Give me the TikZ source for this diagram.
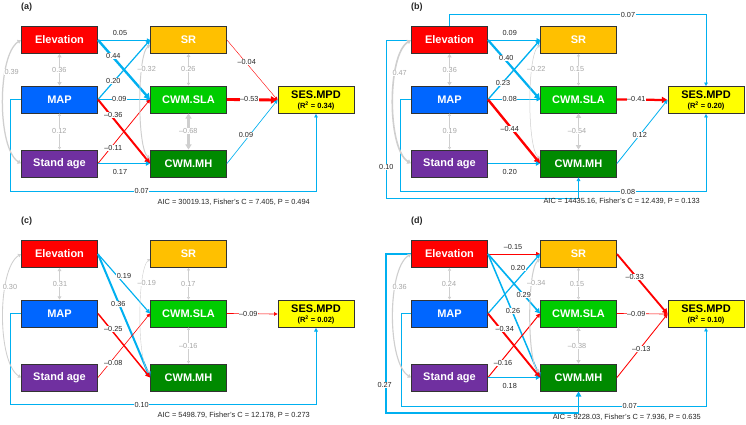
\documentclass[tikz,border=0pt]{standalone}
\usepackage{fontspec}
\setmainfont{Liberation Sans}
\usetikzlibrary{arrows.meta}
\definecolor{cEl}{HTML}{FF0000}
\definecolor{cMAP}{HTML}{0066FF}
\definecolor{cSA}{HTML}{7030A0}
\definecolor{cSR}{HTML}{FFC000}
\definecolor{cSLA}{HTML}{00CC00}
\definecolor{cMH}{HTML}{008A00}
\definecolor{cSES}{HTML}{FFFF00}
\definecolor{lnbl}{HTML}{00B0F0}
\definecolor{lnrd}{HTML}{FF0000}
\definecolor{lngr}{HTML}{CFCFCF}
\definecolor{txgr}{HTML}{A6A6A6}
\definecolor{txdk}{HTML}{262626}
\tikzset{
  bx/.style={draw=black!80, line width=0.9pt, minimum width=76pt, minimum height=27pt, inner sep=0pt, text=white, font=\fontsize{11}{12}\selectfont\bfseries},
  pb/.style={draw=lnbl, line width=#1, -{Triangle[length=2.6pt 1.4, width=2.6pt 1.6]}},
  pr/.style={draw=lnrd, line width=#1, -{Triangle[length=2.6pt 1.4, width=2.6pt 1.6]}},
  cg/.style={draw=lngr, line width=#1, {Triangle[length=2pt 1.2, width=2.4pt 1.4]}-{Triangle[length=2pt 1.2, width=2.4pt 1.4]}},
  lab/.style={fill=white, inner sep=0.6pt, text=txdk, font=\fontsize{7.3}{8}\selectfont},
  glab/.style={lab, text=txgr},
  ptag/.style={inner sep=0pt, text=txdk, font=\fontsize{9}{10}\selectfont\bfseries},
  aic/.style={inner sep=0pt, text=txdk, font=\fontsize{7.4}{8}\selectfont}
}
\newcommand{\mkboxes}[2]{%
  \node[bx, fill=cEl] (#1E) at (59.5,40) {Elevation};
  \node[bx, fill=cMAP] (#1M) at (59.5,99.5) {MAP};
  \node[bx, fill=cSA] (#1A) at (59.5,163.5) {Stand age};
  \node[bx, fill=cSR] (#1R) at (188.5,40) {SR};
  \node[bx, fill=cSLA] (#1L) at (188.5,99.5) {CWM.SLA};
  \node[bx, fill=cMH] (#1H) at (188.5,163.5) {CWM.MH};
  \node[bx, fill=cSES, text=black, align=center] (#1P) at (316,100) {SES.MPD\\[-2pt]{\fontsize{7.5}{8}\selectfont (R\textsuperscript{2} = #2)}};
}
\newcommand{\mylab}[4]{\node[lab] (#1) at (#2,#3) {#4};}
\newcommand{\mygl}[4]{\node[glab] (#1) at (#2,#3) {#4};}
\begin{document}
\begin{tikzpicture}[x=1pt,y=-1pt]
\fill[white] (0,0) rectangle (746,424);
\useasboundingbox (0,0) rectangle (746,424);

% ---------------- panel (a)
\begin{scope}
\node[ptag, anchor=west] (aTag) at (21,7) {(a)};
\mkboxes{a}{0.34}
\draw[pb=0.45pt] (aE.east) -- (aR.west);
\draw[pb=2.4pt] (aE.east) -- (aL.west);
\draw[pb=1.2pt] (aM.east) -- (aR.west);
\draw[pb=0.65pt] (aM.east) -- (aL.west);
\draw[pr=2pt] (aM.east) -- (aH.west);
\draw[pr=0.75pt] (aA.east) -- (aL.west);
\draw[pb=1.05pt] (aA.east) -- (aH.west);
\draw[pr=0.4pt] (aR.east) -- (aP.west);
\draw[pr=2.85pt] (aL.east) -- (aP.west);
\draw[pb=0.65pt] (aH.east) -- (aP.west);
\draw[pb=0.55pt] (aM.west) -| (10.5,191.5) -| (aP.south);
\draw[cg=1.1pt] (aE.south) -- (aM.north);
\draw[cg=0.4pt] (aM.south) -- (aA.north);
\draw[cg=1.25pt] (aE.west) .. controls +(-24,15) and +(-24,-15) .. (aA.west);
\draw[cg=0.67pt] (aR.south) -- (aL.north);
\draw[cg=2.56pt] (aL.south) -- (aH.north);
\draw[cg=0.94pt] ([yshift=-5pt]aR.west) .. controls +(-13,10) and +(-13,-10) .. ([yshift=5pt]aH.west);
\mylab{a1}{120}{33.3}{0.05}
\mylab{a2}{113.3}{56}{0.44}
\mylab{a3}{113.3}{81}{0.20}
\mylab{a4}{119.3}{99.3}{0.09}
\mylab{a5}{113.3}{115}{–0.36}
\mylab{a6}{113.3}{147.7}{–0.11}
\mylab{a7}{120}{171.7}{0.17}
\mylab{a8}{246.7}{61.7}{–0.04}
\mylab{a9}{249.3}{99.3}{–0.53}
\mylab{a10}{246}{135}{0.09}
\mylab{a11}{141.7}{191}{0.07}
\mygl{a12}{59.3}{70}{0.36}
\mygl{a13}{59.3}{131}{0.12}
\mygl{a14}{11.7}{71.7}{0.39}
\mygl{a15}{188.3}{69}{0.26}
\mygl{a16}{188.3}{131}{–0.68}
\mygl{a17}{146.7}{69}{–0.32}
\node[aic, anchor=east] (aAIC) at (310,202.7) {AIC = 30019.13, Fisher's C = 7.405, P = 0.494};
\end{scope}

% ---------------- panel (b)
\begin{scope}[shift={(390,0)}]
\node[ptag, anchor=west] (bTag) at (21,7) {(b)};
\mkboxes{b}{0.20}
\draw[pb=0.65pt] (bE.east) -- (bR.west);
\draw[pb=2.2pt] (bE.east) -- (bL.west);
\draw[pb=1.35pt] (bM.east) -- (bR.west);
\draw[pb=0.6pt] (bM.east) -- (bL.west);
\draw[pr=2.4pt] (bM.east) -- (bH.west);
\draw[pb=1.2pt] (bA.east) -- (bH.west);
\draw[pr=2.25pt] (bL.east) -- (bP.west);
\draw[pb=0.8pt] (bH.east) -- (bP.west);
\draw[pb=0.55pt] (bE.north) -- ++(0,-11.5) -| (bP.north);
\draw[pb=0.6pt] (bM.west) -| (10.7,191.7) -| (bP.south);
\draw[pb=0.7pt] (bE.west) -| (-4,198) -| (bH.south);
\draw[cg=1.1pt] (bE.south) -- (bM.north);
\draw[cg=0.4pt] (bM.south) -- (bA.north);
\draw[cg=1.6pt] (bE.west) .. controls +(-24,15) and +(-24,-15) .. (bA.west);
\draw[cg=0.4pt] (bR.south) -- (bL.north);
\draw[cg=1.93pt] (bL.south) -- (bH.north);
\draw[cg=0.5pt] ([yshift=-5pt]bR.west) .. controls +(-13,10) and +(-13,-10) .. ([yshift=5pt]bH.west);
\mylab{b1}{119.7}{33.3}{0.09}
\mylab{b2}{116.3}{58.3}{0.40}
\mylab{b3}{113}{83.3}{0.23}
\mylab{b4}{119.7}{99.3}{0.08}
\mylab{b5}{119.7}{129.3}{–0.44}
\mylab{b6}{119.7}{171.7}{0.20}
\mylab{b7}{246.3}{99.3}{–0.41}
\mylab{b8}{249.7}{135}{0.12}
\mylab{b9}{238}{15}{0.07}
\mylab{b10}{238}{191.7}{0.08}
\mylab{b11}{-3.7}{166.7}{0.10}
\mygl{b12}{59.7}{70}{0.36}
\mygl{b13}{59.7}{131}{0.19}
\mygl{b14}{9.7}{73.3}{0.47}
\mygl{b15}{187}{69}{0.15}
\mygl{b16}{187}{131}{–0.54}
\mygl{b17}{146.3}{69}{–0.22}
\node[aic, anchor=east] (bAIC) at (310,201.7) {AIC = 14435.16, Fisher's C = 12.439, P = 0.133};
\end{scope}

% ---------------- panel (c)
\begin{scope}[shift={(0,214)}]
\node[ptag, anchor=west] (cTag) at (21,7) {(c)};
\mkboxes{c}{0.02}
\draw[pb=1.15pt] (cE.east) -- (cL.west);
\draw[pb=2pt] (cE.east) -- (cH.west);
\draw[pr=1.45pt] (cM.east) -- (cH.west);
\draw[pr=0.6pt] (cA.east) -- (cL.west);
\draw[pr=0.65pt] (cL.east) -- (cP.west);
\draw[pb=0.7pt] (cM.west) -| (10.7,190.7) -| (cP.south);
\draw[cg=0.9pt] (cE.south) -- (cM.north);
\draw[cg=0.85pt] (cE.west) .. controls +(-24,15) and +(-24,-15) .. (cA.west);
\draw[cg=0.4pt] (cR.south) -- (cL.north);
\draw[cg=0.4pt] (cL.south) -- (cH.north);
\draw[cg=0.4pt] ([yshift=-5pt]cR.west) .. controls +(-13,10) and +(-13,-10) .. ([yshift=5pt]cH.west);
\mylab{c1}{124}{62}{0.19}
\mylab{c2}{118.3}{89.7}{0.36}
\mylab{c3}{113.3}{115.3}{–0.25}
\mylab{c4}{113.3}{148.7}{–0.08}
\mylab{c5}{248.3}{99.7}{–0.09}
\mylab{c6}{141.7}{190.7}{0.10}
\mygl{c7}{60}{69.7}{0.31}
\mygl{c8}{10}{73}{0.30}
\mygl{c9}{188.3}{69.7}{0.17}
\mygl{c10}{188.3}{132}{–0.16}
\mygl{c11}{146.7}{68.7}{–0.19}
\node[aic, anchor=east] (cAIC) at (310,201.5) {AIC = 5498.79, Fisher's C = 12.178, P = 0.273};
\end{scope}

% ---------------- panel (d)
\begin{scope}[shift={(390,214)}]
\node[ptag, anchor=west] (dTag) at (21,7) {(d)};
\mkboxes{d}{0.10}
\draw[pr=0.95pt] (dE.east) -- (dR.west);
\draw[pb=1.65pt] (dE.east) -- (dL.west);
\draw[pb=1.5pt] (dE.east) -- (dH.west);
\draw[pb=1.2pt] (dM.east) -- (dR.west);
\draw[pr=1.9pt] (dM.east) -- (dH.west);
\draw[pr=1pt] (dA.east) -- (dL.west);
\draw[pb=1.1pt] (dA.east) -- (dH.west);
\draw[pr=1.85pt] (dR.east) -- (dP.west);
\draw[pr=0.65pt] (dL.east) -- (dP.west);
\draw[pr=0.85pt] (dH.east) -- (dP.west);
\draw[pb=1.8pt] (dE.west) -| (-4.3,198.7) -| (dH.south);
\draw[pb=0.55pt] (dM.west) -| (11,192) -| (dP.south);
\draw[cg=0.58pt] (dE.south) -- (dM.north);
\draw[cg=1.12pt] (dE.west) .. controls +(-24,15) and +(-24,-15) .. (dA.west);
\draw[cg=0.4pt] (dR.south) -- (dL.north);
\draw[cg=1.2pt] (dL.south) -- (dH.north);
\draw[cg=1.03pt] ([yshift=-5pt]dR.west) .. controls +(-13,10) and +(-13,-10) .. ([yshift=5pt]dH.west);
\mylab{d1}{123}{33}{–0.15}
\mylab{d2}{128}{54}{0.20}
\mylab{d3}{133.7}{81.3}{0.29}
\mylab{d4}{123}{96.7}{0.26}
\mylab{d5}{114.7}{114.7}{–0.34}
\mylab{d6}{113}{148.7}{–0.16}
\mylab{d7}{119.7}{172}{0.18}
\mylab{d8}{244.7}{63}{–0.33}
\mylab{d9}{246.3}{99.7}{–0.09}
\mylab{d10}{251.3}{134.7}{–0.13}
\mylab{d11}{-5.3}{171.3}{0.27}
\mylab{d12}{239.7}{192}{0.07}
\mygl{d13}{59}{69.7}{0.24}
\mygl{d14}{9.7}{73}{0.36}
\mygl{d15}{187}{69.7}{0.15}
\mygl{d16}{187}{132}{–0.38}
\mygl{d17}{146.3}{68.7}{–0.34}
\node[aic, anchor=east] (dAIC) at (311,203.5) {AIC = 9228.03, Fisher's C = 7.936, P = 0.635};
\end{scope}
\end{tikzpicture}
\end{document}
